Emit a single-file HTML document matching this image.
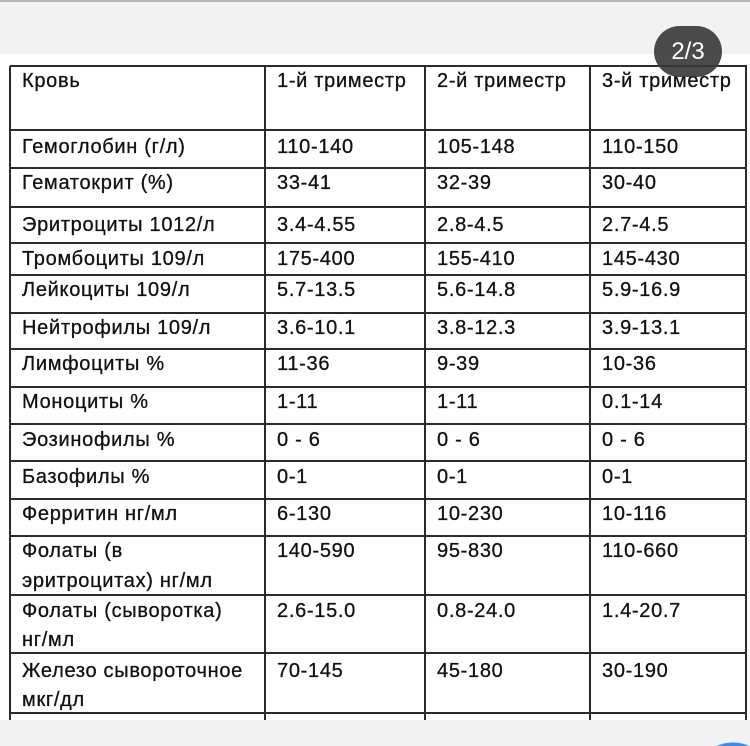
<!DOCTYPE html>
<html><head><meta charset="utf-8">
<style>
html,body{margin:0;padding:0;width:750px;height:746px;overflow:hidden;}
#wrap{position:relative;width:750px;height:746px;overflow:hidden;background:#f2f2f2;font-family:"Liberation Sans","DejaVu Sans",sans-serif;}
.topline{position:absolute;left:0;top:0;width:750px;height:2px;background:#b4b4b4;}
.photo{position:absolute;left:0;top:54px;width:750px;height:666px;background:#fff;}
.h{position:absolute;height:2px;background:#2b2b2b;left:10px;width:737px;}
.v{position:absolute;width:2px;background:#2b2b2b;top:66px;height:654px;}
.t{position:absolute;font-size:20px;line-height:20px;color:#111;white-space:nowrap;letter-spacing:0.7px;-webkit-text-stroke:0.3px #111;}
.badge{position:absolute;left:654px;top:26px;width:68px;height:51px;border-radius:26px;background:rgba(55,55,55,0.9);color:#fff;font-size:24px;line-height:51px;text-align:center;}
.blue{position:absolute;left:690px;top:740px;width:60px;height:6px;background:radial-gradient(circle 40px at 43px 42px,#3b8beb 39px,rgba(59,139,235,0) 40px);}
</style></head><body>
<div id="wrap">
<div class="topline"></div>
<div class="photo"></div>

<div class="h" style="top:65px"></div>
<div class="h" style="top:129px"></div>
<div class="h" style="top:167px"></div>
<div class="h" style="top:206px"></div>
<div class="h" style="top:242px"></div>
<div class="h" style="top:274px"></div>
<div class="h" style="top:312px"></div>
<div class="h" style="top:348px"></div>
<div class="h" style="top:386px"></div>
<div class="h" style="top:423px"></div>
<div class="h" style="top:460px"></div>
<div class="h" style="top:498px"></div>
<div class="h" style="top:535px"></div>
<div class="h" style="top:594px"></div>
<div class="h" style="top:652px"></div>
<div class="h" style="top:712px"></div>

<div class="v" style="left:9px"></div>
<div class="v" style="left:264px"></div>
<div class="v" style="left:424px"></div>
<div class="v" style="left:589px"></div>
<div class="v" style="left:745px"></div>

<div class="t" style="left:22px;top:71px">Кровь</div>
<div class="t" style="left:277px;top:71px">1-й триместр</div>
<div class="t" style="left:437px;top:71px">2-й триместр</div>
<div class="t" style="left:602px;top:71px">3-й триместр</div>

<div class="t" style="left:22px;top:137px">Гемоглобин (г/л)</div>
<div class="t" style="left:277px;top:137px">110-140</div>
<div class="t" style="left:437px;top:137px">105-148</div>
<div class="t" style="left:602px;top:137px">110-150</div>

<div class="t" style="left:22px;top:173px">Гематокрит (%)</div>
<div class="t" style="left:277px;top:173px">33-41</div>
<div class="t" style="left:437px;top:173px">32-39</div>
<div class="t" style="left:602px;top:173px">30-40</div>

<div class="t" style="left:22px;top:215px">Эритроциты 1012/л</div>
<div class="t" style="left:277px;top:215px">3.4-4.55</div>
<div class="t" style="left:437px;top:215px">2.8-4.5</div>
<div class="t" style="left:602px;top:215px">2.7-4.5</div>

<div class="t" style="left:22px;top:249px">Тромбоциты 109/л</div>
<div class="t" style="left:277px;top:249px">175-400</div>
<div class="t" style="left:437px;top:249px">155-410</div>
<div class="t" style="left:602px;top:249px">145-430</div>

<div class="t" style="left:22px;top:280px">Лейкоциты 109/л</div>
<div class="t" style="left:277px;top:280px">5.7-13.5</div>
<div class="t" style="left:437px;top:280px">5.6-14.8</div>
<div class="t" style="left:602px;top:280px">5.9-16.9</div>

<div class="t" style="left:22px;top:318px">Нейтрофилы 109/л</div>
<div class="t" style="left:277px;top:318px">3.6-10.1</div>
<div class="t" style="left:437px;top:318px">3.8-12.3</div>
<div class="t" style="left:602px;top:318px">3.9-13.1</div>

<div class="t" style="left:22px;top:354px">Лимфоциты %</div>
<div class="t" style="left:277px;top:354px">11-36</div>
<div class="t" style="left:437px;top:354px">9-39</div>
<div class="t" style="left:602px;top:354px">10-36</div>

<div class="t" style="left:22px;top:392px">Моноциты %</div>
<div class="t" style="left:277px;top:392px">1-11</div>
<div class="t" style="left:437px;top:392px">1-11</div>
<div class="t" style="left:602px;top:392px">0.1-14</div>

<div class="t" style="left:22px;top:430px">Эозинофилы %</div>
<div class="t" style="left:277px;top:430px">0 - 6</div>
<div class="t" style="left:437px;top:430px">0 - 6</div>
<div class="t" style="left:602px;top:430px">0 - 6</div>

<div class="t" style="left:22px;top:467px">Базофилы %</div>
<div class="t" style="left:277px;top:467px">0-1</div>
<div class="t" style="left:437px;top:467px">0-1</div>
<div class="t" style="left:602px;top:467px">0-1</div>

<div class="t" style="left:22px;top:504px">Ферритин нг/мл</div>
<div class="t" style="left:277px;top:504px">6-130</div>
<div class="t" style="left:437px;top:504px">10-230</div>
<div class="t" style="left:602px;top:504px">10-116</div>

<div class="t" style="left:22px;top:541px">Фолаты (в</div>
<div class="t" style="left:22px;top:571px">эритроцитах) нг/мл</div>
<div class="t" style="left:277px;top:541px">140-590</div>
<div class="t" style="left:437px;top:541px">95-830</div>
<div class="t" style="left:602px;top:541px">110-660</div>

<div class="t" style="left:22px;top:601px">Фолаты (сыворотка)</div>
<div class="t" style="left:22px;top:630px">нг/мл</div>
<div class="t" style="left:277px;top:601px">2.6-15.0</div>
<div class="t" style="left:437px;top:601px">0.8-24.0</div>
<div class="t" style="left:602px;top:601px">1.4-20.7</div>

<div class="t" style="left:22px;top:661px">Железо сывороточное</div>
<div class="t" style="left:22px;top:690px">мкг/дл</div>
<div class="t" style="left:277px;top:661px">70-145</div>
<div class="t" style="left:437px;top:661px">45-180</div>
<div class="t" style="left:602px;top:661px">30-190</div>

<div class="badge">2/3</div>
<div class="blue"></div>
</div>
</body></html>
